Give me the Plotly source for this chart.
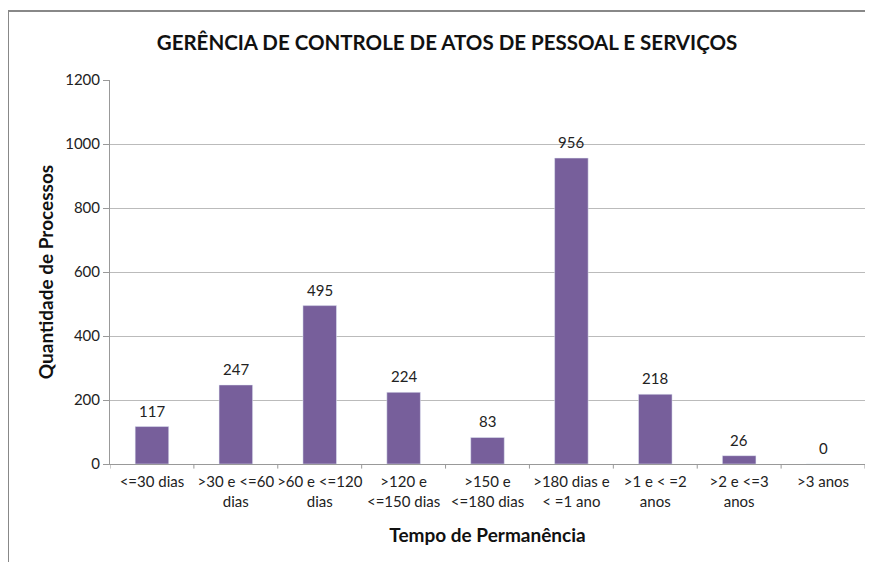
import plotly.graph_objects as go

categories = ["<=30 dias", ">30 e <=60<br>dias", ">60 e <=120<br>dias", ">120 e<br><=150 dias",
              ">150 e<br><=180 dias", ">180 dias e<br>< =1 ano", ">1 e < =2<br>anos", ">2 e <=3<br>anos", ">3 anos"]
values = [117, 247, 495, 224, 83, 956, 218, 26, 0]
y_ticks = [0, 200, 400, 600, 800, 1000, 1200]

FONT = "Lato"
W, H = 865, 554
L, R, T, B = 102, 8, 72, 98
PW, PH = W - L - R, H - T - B

fig = go.Figure()
xs = list(range(len(categories)))
fig.add_trace(go.Bar(x=xs, y=values, marker_color="#775F9B", hoverinfo="y"))
for x, v in zip(xs, values):
    fig.add_annotation(x=x, y=v, text=str(v), showarrow=False, yanchor="bottom", yshift=5,
                       font=dict(size=15, color="#222", family=FONT))
fig.update_layout(
    width=W, height=H, plot_bgcolor="white", paper_bgcolor="white",
    margin=dict(l=L, r=R, t=T, b=B, autoexpand=False),
    bargap=0.6, showlegend=False,
    title=dict(text="<b>GERÊNCIA DE CONTROLE DE ATOS DE PESSOAL E SERVIÇOS</b>",
               x=439 / W, xanchor="center", y=1 - 35 / H, yanchor="middle",
               font=dict(size=20.5, color="#111", family=FONT)),
    font=dict(family=FONT, color="#333", size=15),
)
fig.update_xaxes(
    tickmode="array", tickvals=xs, ticktext=categories, automargin=False,
    range=[-0.5, len(categories) - 0.5], showline=True, linecolor="#999", linewidth=1,
    showgrid=False, ticks="", tickfont=dict(size=15, color="#222"), ticklabelstandoff=4,
    title=dict(text="<b>Tempo de Permanência</b>", font=dict(size=19, color="#111"), standoff=20),
)
# tick marks between categories
for i in range(len(categories) + 1):
    fig.add_shape(type="line", xref="x", yref="paper", x0=i - 0.5, x1=i - 0.5, y0=0, y1=-0.012,
                  line=dict(color="#999", width=1))
fig.update_yaxes(
    range=[0, 1200], tickvals=y_ticks, showgrid=True, gridcolor="#BBBBBB", gridwidth=1, automargin=False,
    showline=True, linecolor="#999", linewidth=1, ticks="outside", ticklen=6, tickcolor="#999",
    tickfont=dict(size=15, color="#222"), zeroline=False,
    title=dict(text="<b>Quantidade de Processos</b>", font=dict(size=19, color="#111"), standoff=6),
)
# outer chart frame (cropped)
fig.add_shape(type="rect", xref="paper", yref="paper",
              x0=-L / PW, x1=1.2, y0=-0.5, y1=1 + (T - 3) / PH,
              line=dict(color="#888", width=2), layer="below")
fig.write_html("out.html")
